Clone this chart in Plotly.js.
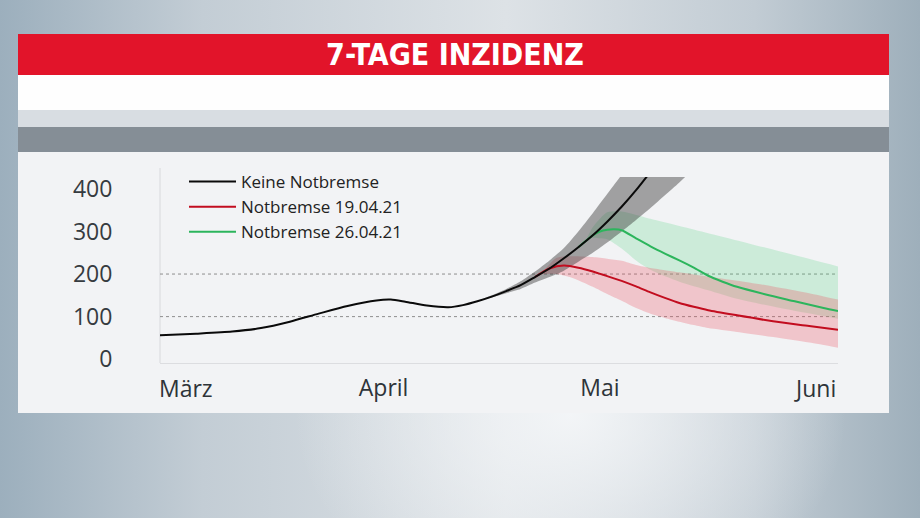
<!DOCTYPE html>
<html><head><meta charset="utf-8">
<script src="https://cdn.plot.ly/plotly-3.0.1.min.js"></script>
<style>
html,body{margin:0;padding:0;width:920px;height:518px;overflow:hidden;}
body{background:
 radial-gradient(ellipse 40% 55% at 62% 80%, rgba(244,246,248,0.95), rgba(244,246,248,0) 75%),
 linear-gradient(90deg,#9cafbd 0%,#c3cdd5 22%,#dde2e6 55%,#c2ccd4 82%,#9eafbb 100%);}
#chart{width:920px;height:518px;}
</style></head><body><div id="chart"></div>
<script>
// ---- data ----
const blackDates = ['2021-03-01','2021-03-06','2021-03-11','2021-03-15','2021-03-19','2021-03-23','2021-03-27','2021-03-31','2021-04-02','2021-04-04','2021-04-07','2021-04-10','2021-04-12','2021-04-14','2021-04-16','2021-04-18','2021-04-20','2021-04-22','2021-04-24','2021-04-26','2021-04-28','2021-04-30','2021-05-02','2021-05-04','2021-05-06','2021-05-08'];
const blackVals  = [56,60,65,73,88,107,125,138,140,135,126,122,127,136,147,160,174,193,213,237,263,291,323,358,397,440];

const redDates = ['2021-04-22','2021-04-24','2021-04-26','2021-04-28','2021-04-30','2021-05-02','2021-05-04','2021-05-06','2021-05-08','2021-05-10','2021-05-12','2021-05-14','2021-05-16','2021-05-20','2021-05-25','2021-05-30','2021-06-03'];
const redVals  = [193,213,220,215,206,195,184,171,157,144,132,123,115,103,89,78,69];

const greenDates = ['2021-04-28','2021-04-30','2021-05-01','2021-05-02','2021-05-03','2021-05-04','2021-05-06','2021-05-08','2021-05-10','2021-05-12','2021-05-14','2021-05-16','2021-05-18','2021-05-20','2021-05-24','2021-05-28','2021-06-01','2021-06-03'];
const greenVals  = [263,291,300,304,305,303,284,265,248,232,215,196,182,170,152,136,120,113];

const grayBandDates = ['2021-04-14','2021-04-16','2021-04-18','2021-04-20','2021-04-22','2021-04-24','2021-04-26','2021-04-28','2021-04-30','2021-05-02','2021-05-04','2021-05-06','2021-05-08','2021-05-10','2021-05-12','2021-05-14'];
const grayUpper = [137,150,165,183,206,232,261,300,343,388,433,480,533,590,650,720];
const grayLower = [137,145,155,165,180,193,208,229,250,274,300,327,355,385,415,448];

const redBandDates = ['2021-04-23','2021-04-25','2021-04-27','2021-04-30','2021-05-02','2021-05-04','2021-05-06','2021-05-08','2021-05-10','2021-05-12','2021-05-14','2021-05-16','2021-05-20','2021-05-25','2021-05-30','2021-06-03'];
const redUpper = [203,238,242,240,236,231,221,214,209,204,199,194,184,171,155,140];
const redLower = [200,200,192,170,153,137,120,107,97,88,80,73,64,52,39,27];

const greenBandDates = ['2021-04-29','2021-04-30','2021-05-01','2021-05-02','2021-05-04','2021-05-06','2021-05-08','2021-05-12','2021-05-16','2021-05-20','2021-05-26','2021-06-03'];
const greenUpper = [278,310,330,345,347,339,330,313,296,279,253,218];
const greenLower = [278,285,284,282,260,232,210,182,162,142,120,95];

const seriesNames = ['Keine Notbremse','Notbremse 19.04.21','Notbremse 26.04.21'];
const yTicks = [0,100,200,300,400];
const gridValues = [100,200];
const monthTickVals = ['2021-04-01','2021-05-01'];
const monthTickText = ['April','Mai'];
const edgeLabelDates = ['2021-03-01','2021-06-03'];
const edgeLabelText = ['März','Juni'];
const titleText = '7-TAGE INZIDENZ';

// ---- layout helpers (pixel -> paper) ----
const W = 920, H = 518;
const M = {l:160, r:82, t:177, b:155};
const PW = W - M.l - M.r, PH = H - M.t - M.b;
const px = x => (x - M.l) / PW;
const py = y => (H - M.b - y) / PH;

const font = 'Open Sans, Roboto, sans-serif';
const cGray = 'rgba(50,50,50,0.43)';
const cRedBand = 'rgba(238,80,92,0.28)';
const cGreenBand = 'rgba(70,210,120,0.22)';
const SM = 0.7;

function band(x, lo, hi, fillcolor) {
  return [
    {x: x, y: lo, mode:'lines', line:{width:0, shape:'spline', smoothing:SM}, showlegend:false, hoverinfo:'skip'},
    {x: x, y: hi, mode:'lines', line:{width:0, shape:'spline', smoothing:SM}, fill:'tonexty', fillcolor: fillcolor, showlegend:false, hoverinfo:'skip'}
  ];
}

const traces = [
  ...band(greenBandDates, greenLower, greenUpper, cGreenBand),
  ...band(redBandDates, redLower, redUpper, cRedBand),
  ...band(grayBandDates, grayLower, grayUpper, cGray),
  {x: redDates, y: redVals, name: seriesNames[1], legendrank: 2, mode:'lines', line:{color:'#c20d1f', width:2, shape:'spline', smoothing:SM}},
  {x: greenDates, y: greenVals, name: seriesNames[2], legendrank: 3, mode:'lines', line:{color:'#2cb55c', width:2, shape:'spline', smoothing:SM}},
  {x: blackDates, y: blackVals, name: seriesNames[0], legendrank: 1, mode:'lines', line:{color:'#0a0a0a', width:2, shape:'spline', smoothing:SM}}
];

function rect(y0, y1, color) {
  return {type:'rect', xref:'paper', yref:'paper', x0:px(18), x1:px(889), y0:py(y1), y1:py(y0), fillcolor:color, line:{width:0}, layer:'below'};
}

const shapes = [
  rect(34, 75, '#e2142a'),
  rect(75, 110, '#fefefe'),
  rect(110, 127, '#d8dde2'),
  rect(127, 152, '#858e96'),
  rect(152, 413, '#f2f3f5'),
  {type:'line', xref:'paper', yref:'paper', x0:0, x1:0, y0:0, y1:py(168), line:{color:'#d8d9dc', width:1}, layer:'below'}
];
gridValues.forEach(v => shapes.push({type:'line', xref:'paper', yref:'y', x0:0, x1:1, y0:v, y1:v, line:{color:'#8e8e8e', width:1, dash:'dot'}, layer:'below'}));

const labelFont = {family: font, size: 23, color: '#2e3439'};
const annotations = edgeLabelText.map((t, i) => ({
  x: edgeLabelDates[i], xref:'x', y: py(388), yref:'paper', xshift: i === 0 ? -3 : 0,
  text: t, showarrow:false, xanchor: i === 0 ? 'left' : 'right', yanchor:'middle', font: labelFont
}));

const layout = {
  width: W, height: H,
  margin: M,
  paper_bgcolor:'rgba(0,0,0,0)', plot_bgcolor:'rgba(0,0,0,0)',
  title: {text: titleText, font:{family:'DejaVu Sans Condensed, DejaVu Sans, sans-serif', size:30, color:'#ffffff', weight:'bold'},
          xref:'container', yref:'container', x: 455/W, xanchor:'center', y: 1 - 54.5/H, yanchor:'middle'},
  showlegend: true,
  legend: {x: px(184), y: py(164), xanchor:'left', yanchor:'top', bgcolor:'rgba(0,0,0,0)', borderwidth:0,
           font:{family: font, size:17, color:'#222'}, itemwidth: 47, traceorder:'normal'},
  xaxis: {type:'date', range:['2021-03-01','2021-06-03'], showgrid:false, zeroline:false,
          showline:true, linecolor:'#dcdde0', linewidth:1,
          tickmode:'array', tickvals: monthTickVals, ticktext: monthTickText,
          ticks:'outside', ticklen:4, tickcolor:'rgba(0,0,0,0)', tickfont: labelFont, fixedrange:true},
  yaxis: {range:[-9,428], showgrid:false, zeroline:false, showline:false,
          tickmode:'array', tickvals: yTicks,
          ticks:'outside', ticklen:42, tickcolor:'rgba(0,0,0,0)',
          tickfont:{family: font, size:23, color:'#363b40'}, fixedrange:true},
  shapes: shapes,
  annotations: annotations
};

Plotly.newPlot('chart', traces, layout, {displayModeBar:false, staticPlot:true});
</script></body></html>
